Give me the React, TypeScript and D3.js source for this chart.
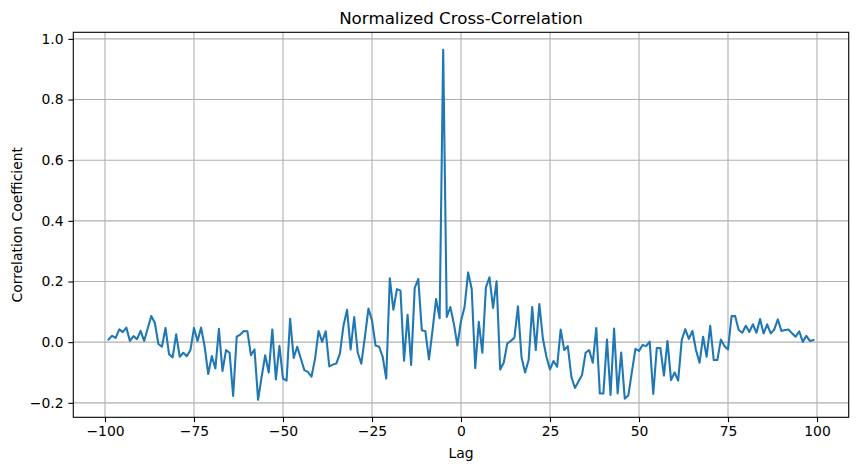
import { useEffect, useRef } from 'react';
import * as d3 from 'd3';
import React from 'react';

// lag of the first sample, one sample per lag
const firstLag = -99;

// correlation coefficient, lag -99 .. 99
const corrValues = [
  0.009, 0.021, 0.014, 0.042, 0.033, 0.048, 0.004, 0.020, 0.010, 0.037,
  0.004, 0.045, 0.086, 0.064, -0.006, -0.015, 0.047, -0.040, -0.050, 0.026,
  -0.048, -0.035, -0.046, -0.026, 0.047, 0.004, 0.048, -0.015, -0.105, -0.046,
  -0.087, 0.044, -0.095, -0.026, -0.035, -0.177, 0.018, 0.025, 0.037, 0.036,
  -0.043, -0.024, -0.190, -0.114, -0.043, -0.100, 0.042, -0.123, -0.012, -0.120,
  -0.127, 0.077, -0.052, -0.015, -0.054, -0.092, -0.098, -0.114, -0.055, 0.037,
  0.001, 0.036, -0.080, -0.074, -0.070, -0.037, 0.055, 0.107, -0.024, 0.083,
  -0.035, -0.071, 0.017, 0.111, 0.072, -0.011, -0.015, -0.048, -0.120, 0.211,
  0.107, 0.175, 0.170, -0.061, 0.090, -0.075, 0.179, 0.208, 0.039, 0.036,
  -0.057, 0.039, 0.142, 0.079, 0.964, 0.083, 0.116, 0.061, -0.011,
  // lag 0
  0.070,
  0.116, 0.230, 0.176, -0.086, 0.067, -0.035, 0.181, 0.214, 0.113, 0.201,
  -0.090, -0.068, -0.004, 0.004, 0.015, 0.118, -0.050, -0.100, -0.059, 0.116,
  -0.026, 0.126, 0.012, -0.048, -0.090, -0.062, -0.081, 0.042, -0.026, -0.013,
  -0.114, -0.151, -0.130, -0.108, -0.035, -0.026, -0.068, 0.047, -0.169, -0.169,
  0.009, -0.174, 0.045, -0.169, -0.034, -0.186, -0.176, -0.098, -0.022, -0.029,
  -0.009, -0.013, 0.002, -0.171, -0.019, -0.019, -0.110, 0.004, -0.125, -0.100,
  -0.127, 0.007, 0.043, 0.011, 0.037, -0.026, -0.068, 0.018, -0.048, 0.054,
  -0.059, -0.059, 0.009, -0.013, -0.024, 0.086, 0.086, 0.040, 0.031, 0.054,
  0.034, 0.059, 0.031, 0.076, 0.029, 0.059, 0.029, 0.042, 0.075, 0.037,
  0.040, 0.042, 0.029, 0.018, 0.036, 0.001, 0.021, 0.004, 0.007,
];

const xTicks = [-100, -75, -50, -25, 0, 25, 50, 75, 100];
const yTicks = [-0.2, 0.0, 0.2, 0.4, 0.6, 0.8, 1.0];

const title = 'Normalized Cross-Correlation';
const xLabel = 'Lag';
const yLabel = 'Correlation Coefficient';

const App = () => {
  const svgRef = useRef(null);

  useEffect(() => {
    const svg = d3.select(svgRef.current);
    svg.selectAll('*').remove();

    const W = 857, H = 470;
    const margin = { top: 32.3, right: 8.3, bottom: 52.7, left: 73.3 };
    const width = W - margin.left - margin.right;
    const height = H - margin.top - margin.bottom;
    const font = 'DejaVu Sans, sans-serif';

    const data = corrValues.map((v, i) => ({ lag: firstLag + i, v }));

    // matplotlib style 5% padding
    const [x0, x1] = d3.extent(data, d => d.lag);
    const [y0, y1] = d3.extent(data, d => d.v);
    const xPad = (x1 - x0) * 0.05, yPad = (y1 - y0) * 0.05;

    const x = d3.scaleLinear().domain([x0 - xPad, x1 + xPad]).range([0, width]);
    const y = d3.scaleLinear().domain([y0 - yPad, y1 + yPad]).range([height, 0]);

    svg.attr('width', W).attr('height', H);
    svg.append('rect').attr('width', W).attr('height', H).attr('fill', '#fff');

    const g = svg.append('g').attr('transform', `translate(${margin.left},${margin.top})`);

    // grid
    g.selectAll('.gx').data(xTicks).enter().append('line')
      .attr('x1', d => x(d)).attr('x2', d => x(d))
      .attr('y1', 0).attr('y2', height)
      .attr('stroke', '#b0b0b0').attr('stroke-width', 1.1);
    g.selectAll('.gy').data(yTicks).enter().append('line')
      .attr('x1', 0).attr('x2', width)
      .attr('y1', d => y(d)).attr('y2', d => y(d))
      .attr('stroke', '#b0b0b0').attr('stroke-width', 1.1);

    // line
    const line = d3.line()
      .x(d => x(d.lag))
      .y(d => y(d.v));
    g.append('path')
      .datum(data)
      .attr('fill', 'none')
      .attr('stroke', '#1f77b4')
      .attr('stroke-width', 2.08)
      .attr('stroke-linejoin', 'round')
      .attr('stroke-linecap', 'square')
      .attr('d', line);

    // axes
    const xAxis = g.append('g')
      .attr('transform', `translate(0,${height})`)
      .call(d3.axisBottom(x).tickValues(xTicks).tickSize(4.9).tickPadding(4.4).tickFormat(d3.format('d')));
    const yAxis = g.append('g')
      .call(d3.axisLeft(y).tickValues(yTicks).tickSize(4.9).tickPadding(4.9).tickFormat(d3.format('.1f')));

    [xAxis, yAxis].forEach(a => {
      a.select('.domain').remove();
      a.selectAll('line').attr('stroke', '#000').attr('stroke-width', 1.1);
      a.selectAll('text').attr('font-family', font).attr('font-size', 13.9).attr('fill', '#000');
    });

    // spines
    g.append('rect')
      .attr('width', width).attr('height', height)
      .attr('fill', 'none').attr('stroke', '#000').attr('stroke-width', 1.1);

    // title and labels
    svg.append('text')
      .attr('x', margin.left + width / 2).attr('y', 24)
      .attr('text-anchor', 'middle')
      .attr('font-family', font).attr('font-size', 16.7)
      .text(title);

    svg.append('text')
      .attr('x', margin.left + width / 2).attr('y', 458)
      .attr('text-anchor', 'middle')
      .attr('font-family', font).attr('font-size', 13.9)
      .text(xLabel);

    svg.append('text')
      .attr('transform', `translate(22,${margin.top + height / 2}) rotate(-90)`)
      .attr('text-anchor', 'middle')
      .attr('font-family', font).attr('font-size', 13.9)
      .text(yLabel);
  }, []);

  return (
    <svg ref={svgRef} style={{ position: 'absolute', left: 0, top: 0, display: 'block' }}></svg>
  );
};

export default App;
